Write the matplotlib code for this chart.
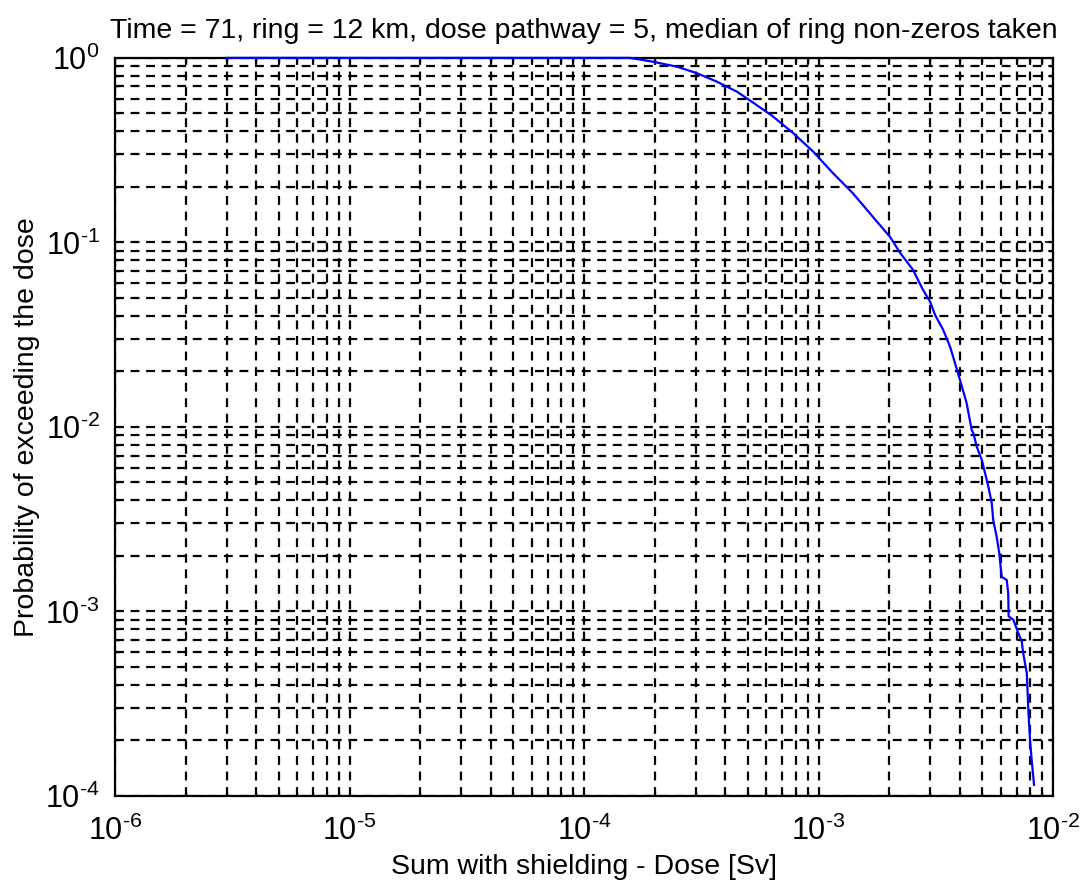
import numpy as np
import matplotlib
matplotlib.use("Agg")
import matplotlib.pyplot as plt
from matplotlib.ticker import LogLocator, FuncFormatter, NullFormatter

plt.rcParams['font.family'] = ['Liberation Sans', 'DejaVu Sans']
plt.rcParams['mathtext.fontset'] = 'custom'
plt.rcParams['mathtext.rm'] = 'Liberation Sans'
plt.rcParams['mathtext.it'] = 'Liberation Sans'
plt.rcParams['mathtext.default'] = 'regular'

# exceedance curve
dose = [3.0e-6, 1.57e-4, 1.95e-4, 2.48e-4, 3.03e-4, 3.68e-4, 4.48e-4, 5.44e-4,
        6.40e-4, 7.78e-4, 9.48e-4, 1.15e-3, 1.40e-3, 1.71e-3, 2.02e-3, 2.23e-3,
        2.53e-3, 2.79e-3, 2.99e-3, 3.14e-3, 3.40e-3, 3.64e-3, 3.82e-3, 4.01e-3,
        4.28e-3, 4.50e-3, 4.57e-3, 4.73e-3, 4.97e-3, 5.13e-3, 5.30e-3, 5.48e-3,
        5.56e-3, 5.75e-3, 5.90e-3, 6.04e-3, 6.35e-3, 6.44e-3, 6.47e-3, 6.78e-3,
        7.11e-3, 7.36e-3, 7.46e-3, 7.73e-3, 7.86e-3, 7.98e-3, 8.11e-3, 8.30e-3]
prob = [1.0, 1.0, 0.955, 0.897, 0.826, 0.744, 0.657, 0.556,
        0.481, 0.392, 0.311, 0.238, 0.185, 0.137, 0.107, 0.0877,
        0.0710, 0.0553, 0.0478, 0.0405, 0.0336, 0.0272, 0.0222, 0.0180,
        0.0135, 0.00963, 0.00927, 0.00782, 0.00662, 0.00563, 0.00475, 0.00387,
        0.00313, 0.00254, 0.00207, 0.00154, 0.00148, 0.00126, 0.00094, 0.00090,
        0.000764, 0.000686, 0.000596, 0.000464, 0.000282, 0.000201, 0.000157, 0.000115]

title = "Time = 71, ring = 12 km, dose pathway = 5, median of ring non-zeros taken"
xlabel = "Sum with shielding - Dose [Sv]"
ylabel = "Probability of exceeding the dose"


def pow_label(v, pos):
    e = int(round(np.log10(v)))
    if e < 0:
        return r'$10^{\text{-}%d}$' % (-e)
    return r'$10^{%d}$' % e


fig = plt.figure(figsize=(10.8, 8.85), dpi=100)
ax = fig.add_axes([0.1065, 0.1006, 0.8685, 0.834])

ax.loglog(dose, prob, color=(0, 0, 1), lw=1.6, zorder=5, clip_on=False)
ax.set_xlim(1e-6, 1e-2)
ax.set_ylim(1e-4, 1)

for axis in (ax.xaxis, ax.yaxis):
    axis.set_major_locator(LogLocator(base=10, numticks=10))
    axis.set_minor_locator(LogLocator(base=10, subs=np.arange(2, 10), numticks=20))
    axis.set_major_formatter(FuncFormatter(pow_label))
    axis.set_minor_formatter(NullFormatter())

ax.grid(True, which='both', color='black', linestyle=(0, (4, 3)), lw=1.6)
ax.tick_params(which='both', direction='in', top=True, right=True, colors='black')
ax.tick_params(which='major', length=6, width=1.2, labelsize=22)
ax.tick_params(axis='x', which='major', pad=14)
ax.tick_params(axis='y', which='major', pad=11)
ax.tick_params(which='minor', length=3, width=1)
for s in ax.spines.values():
    s.set_linewidth(1.6)
    s.set_color('black')

ax.set_title(title, fontsize=20.5, pad=14)
ax.set_xlabel(xlabel, fontsize=20.5, labelpad=5)
ax.set_ylabel(ylabel, fontsize=20.5, labelpad=4)

fig.savefig("out.png", dpi=100)
